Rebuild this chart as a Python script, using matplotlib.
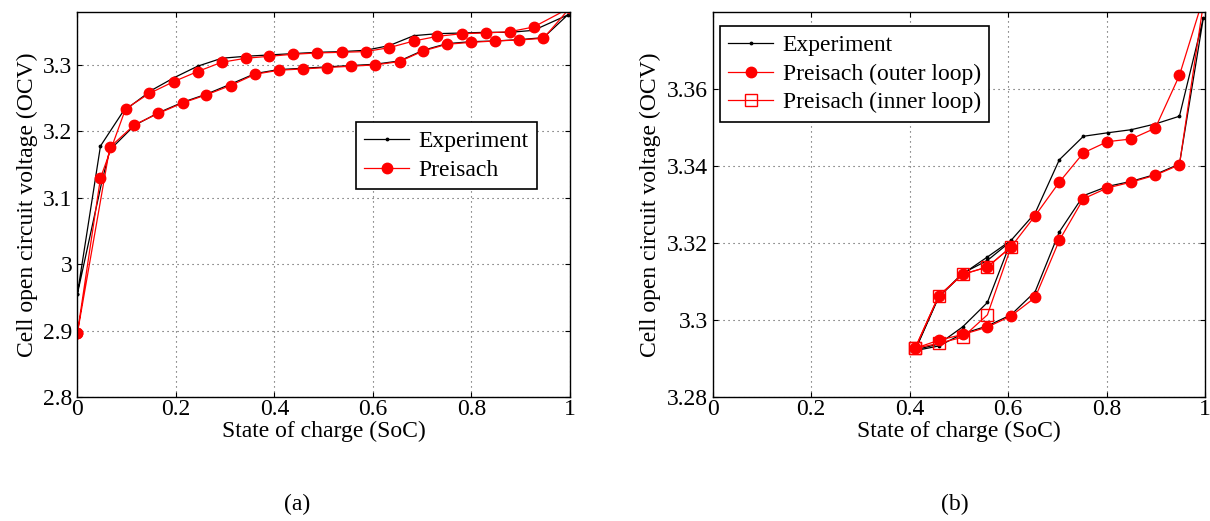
import matplotlib
matplotlib.use("Agg")
import matplotlib.pyplot as plt

plt.rcParams["font.family"] = ["Liberation Serif", "DejaVu Serif"]
plt.rcParams["font.size"] = 17

# ── panel (a): full cycle ─────────────────────────────────────────────────────
soc_exp_a = [0.0, 0.047, 0.093, 0.151, 0.197, 0.244, 0.293, 0.342, 0.390, 0.438,
             0.487, 0.537, 0.585, 0.633, 0.683, 0.731, 0.781, 0.829, 0.878, 0.926,
             0.995, 0.946, 0.897, 0.848, 0.800, 0.750, 0.702, 0.654, 0.604, 0.555,
             0.506, 0.459, 0.409, 0.361, 0.311, 0.262, 0.2145, 0.1645, 0.116, 0.066,
             0.05, 0.0]
ocv_exp_a = [2.955, 3.178, 3.230, 3.262, 3.281, 3.298, 3.310, 3.313, 3.315, 3.317,
             3.319, 3.320, 3.322, 3.329, 3.344, 3.347, 3.348, 3.349, 3.349, 3.352,
             3.375, 3.341, 3.338, 3.336, 3.335, 3.332, 3.322, 3.306, 3.301, 3.299,
             3.297, 3.295, 3.293, 3.287, 3.271, 3.256, 3.244, 3.228, 3.209, 3.172,
             3.125, 2.955]

soc_pre_a = [0.0, 0.047, 0.098, 0.146, 0.196, 0.244, 0.293, 0.342, 0.390, 0.438,
             0.487, 0.537, 0.585, 0.633, 0.683, 0.731, 0.781, 0.829, 0.878, 0.926,
             1.0, 0.946, 0.897, 0.848, 0.800, 0.750, 0.702, 0.654, 0.604, 0.555,
             0.506, 0.459, 0.409, 0.361, 0.311, 0.262, 0.2145, 0.1645, 0.116, 0.066,
             0.0]
ocv_pre_a = [2.896, 3.130, 3.234, 3.257, 3.275, 3.290, 3.304, 3.310, 3.313, 3.316,
             3.318, 3.319, 3.320, 3.326, 3.336, 3.343, 3.347, 3.348, 3.350, 3.357,
             3.386, 3.340, 3.3375, 3.336, 3.334, 3.331, 3.321, 3.305, 3.300, 3.298,
             3.296, 3.294, 3.292, 3.286, 3.269, 3.255, 3.243, 3.227, 3.210, 3.176,
             2.896]

# ── panel (b): partial cycles ─────────────────────────────────────────────────
soc_exp_b_outer = [0.411, 0.459, 0.508, 0.558, 0.606, 0.655, 0.704, 0.753, 0.802, 0.850,
                   0.899, 0.948, 0.9966, 0.948, 0.899, 0.850, 0.802, 0.753, 0.704, 0.655,
                   0.606, 0.558, 0.508, 0.459, 0.411]
ocv_exp_b_outer = [3.2921, 3.3060, 3.3120, 3.3164, 3.3207, 3.3278, 3.3416, 3.3477, 3.3486, 3.3494,
                   3.3509, 3.3529, 3.3784, 3.3405, 3.3378, 3.3360, 3.3347, 3.3323, 3.3229, 3.3074,
                   3.3014, 3.2985, 3.2965, 3.2933, 3.2921]
soc_exp_b_inner = [0.411, 0.459, 0.508, 0.558, 0.606, 0.558, 0.508, 0.459, 0.411]
ocv_exp_b_inner = [3.2923, 3.3061, 3.3122, 3.3155, 3.3205, 3.3046, 3.2983, 3.2938, 3.2923]

soc_pre_b_outer = [0.411, 0.459, 0.508, 0.558, 0.606, 0.655, 0.704, 0.753, 0.8016, 0.850,
                   0.899, 0.948, 1.0, 0.948, 0.899, 0.850, 0.8016, 0.753, 0.704, 0.655,
                   0.606, 0.558, 0.508, 0.459, 0.411]
ocv_pre_b_outer = [3.2927, 3.3063, 3.3119, 3.3138, 3.3190, 3.3271, 3.3358, 3.3434, 3.3463, 3.3470,
                   3.3498, 3.3635, 3.3850, 3.3403, 3.3376, 3.3358, 3.3343, 3.3315, 3.3207, 3.3059,
                   3.3011, 3.2982, 3.2963, 3.2948, 3.2927]
soc_pre_b_inner = [0.411, 0.459, 0.508, 0.558, 0.606, 0.558, 0.508, 0.459, 0.411]
ocv_pre_b_inner = [3.2927, 3.3063, 3.3119, 3.3138, 3.3190, 3.3014, 3.2956, 3.2940, 3.2927]

xticks = [0, 0.2, 0.4, 0.6, 0.8, 1]
xticklabels = ["0", "0.2", "0.4", "0.6", "0.8", "1"]
yticks_a = [2.8, 2.9, 3.0, 3.1, 3.2, 3.3]
yticklabels_a = ["2.8", "2.9", "3", "3.1", "3.2", "3.3"]
yticks_b = [3.28, 3.30, 3.32, 3.34, 3.36]
yticklabels_b = ["3.28", "3.3", "3.32", "3.34", "3.36"]

# ── plot ──────────────────────────────────────────────────────────────────────
fig = plt.figure(figsize=(12.1, 5.21), dpi=100)
ax1 = fig.add_axes([0.0639, 0.2374, 0.4072, 0.7401])
ax2 = fig.add_axes([0.5890, 0.2374, 0.4069, 0.7401])

red_kw = dict(color="red", lw=0.9, marker="o", ms=7.5, mfc="red", mec="red")
blk_kw = dict(color="black", lw=0.9, marker=".", ms=3.5)

ax1.plot(soc_exp_a, ocv_exp_a, label="Experiment", **blk_kw)
ax1.plot(soc_pre_a, ocv_pre_a, label="Preisach", **red_kw)

ax2.plot(soc_exp_b_outer, ocv_exp_b_outer, label="Experiment", **blk_kw)
ax2.plot(soc_exp_b_inner, ocv_exp_b_inner, **blk_kw)
ax2.plot(soc_pre_b_outer, ocv_pre_b_outer, label="Preisach (outer loop)", **red_kw)
ax2.plot(soc_pre_b_inner, ocv_pre_b_inner, label="Preisach (inner loop)",
         color="red", lw=0.9, marker="s", ms=8, mfc="none", mec="red")

for ax, yt, ytl, ylim in ((ax1, yticks_a, yticklabels_a, (2.8, 3.38)),
                          (ax2, yticks_b, yticklabels_b, (3.28, 3.38))):
    ax.set_xlim(0, 1)
    ax.set_ylim(*ylim)
    ax.set_xticks(xticks)
    ax.set_xticklabels(xticklabels)
    ax.set_yticks(yt)
    ax.set_yticklabels(ytl)
    ax.tick_params(direction="in", top=True, right=True, length=3.5, width=0.8)
    ax.tick_params(axis="x", pad=1.0)
    ax.tick_params(axis="y", pad=3.5)
    ax.grid(True, linestyle=(0, (1, 3.5)), color="0.3", lw=0.8)
    for s in ax.spines.values():
        s.set_linewidth(1.0)
    ax.set_xlabel("State of charge (SoC)", labelpad=0.5)
    ax.set_ylabel("Cell open circuit voltage (OCV)", labelpad=4)

leg_kw = dict(fancybox=False, edgecolor="black", framealpha=1, handlelength=1.9,
              handletextpad=0.4, labelspacing=0.3, borderpad=0.35, fontsize=17)
l1 = ax1.legend(loc="upper left", bbox_to_anchor=(0.566, 0.713), borderaxespad=0, **leg_kw)
l2 = ax2.legend(loc="upper left", bbox_to_anchor=(0.015, 0.962), borderaxespad=0, **leg_kw)
for lg in (l1, l2):
    lg.get_frame().set_linewidth(1.2)

fig.text(297 / 1210, 0.032, "(a)", ha="center", va="center", fontsize=17)
fig.text(955 / 1210, 0.032, "(b)", ha="center", va="center", fontsize=17)

fig.savefig("out.png", dpi=100)
